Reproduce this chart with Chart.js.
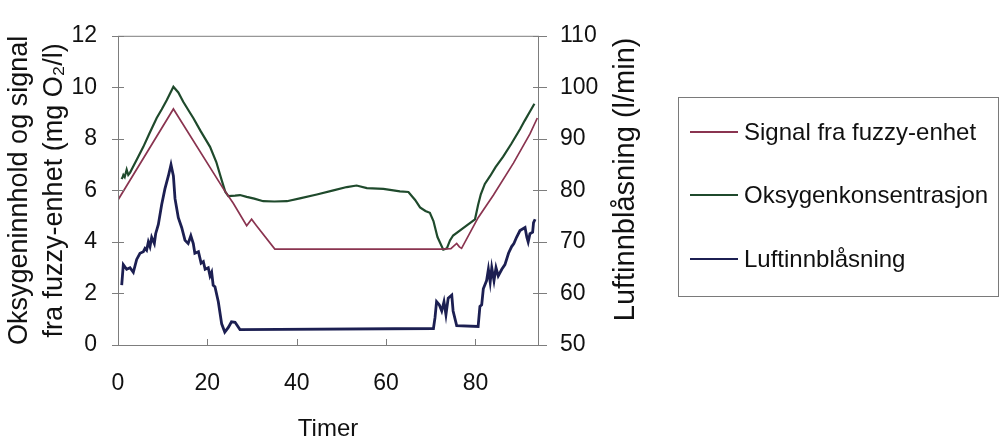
<!DOCTYPE html>
<html>
<head>
<meta charset="utf-8">
<script src="https://cdn.jsdelivr.net/npm/chart.js@4.4.1/dist/chart.umd.min.js"></script>
<style>
  html, body { margin: 0; padding: 0; background: #fff; }
  #wrap { position: relative; width: 1005px; height: 440px; }
  canvas { position: absolute; left: 0; top: 0; }
  #legend {
    position: absolute; left: 678px; top: 97px; width: 321px; height: 200px;
    border: 1px solid #7a7a7a; box-sizing: border-box;
    font-family: "Liberation Sans", Arial, sans-serif; font-size: 24px; color: #111;
  }
  .item { position: absolute; left: 11px; height: 26px; display: flex; align-items: center; white-space: nowrap; }
  .swatch { width: 48px; height: 0; border-top: 2px solid; margin-right: 6px; }
</style>
</head>
<body>
<div id="wrap">
  <canvas id="c" width="1005" height="440"></canvas>
  <div id="legend"></div>
</div>
<script>
// ---- data ----
const seriesNames = ['Signal fra fuzzy-enhet', 'Oksygenkonsentrasjon', 'Luftinnblåsning'];
const seriesColors = ['#8a3450', '#1f4a2c', '#1c1f52'];
const rightTitle = 'Luftinnblåsning (l/min)';

const xTickValues = [0, 20, 40, 60, 80];
const leftTickValues = [0, 2, 4, 6, 8, 10, 12];
const rightTickValues = [50, 60, 70, 80, 90, 100, 110];

const signalX = [0, 12.4, 23.6, 25.8, 28.8, 29.9, 31.0, 35.1, 72.4, 74.5, 75.8, 76.4, 76.9, 80.6, 84.0, 88.5, 92.2, 93.85];
const signalY = [5.63, 9.16, 6.06, 5.5, 4.63, 4.88, 4.63, 3.72, 3.72, 3.74, 3.94, 3.81, 3.75, 4.94, 5.81, 7.06, 8.19, 8.81];

const oksygenX = [0.8, 1.0, 1.2, 1.5, 1.94, 2.3, 2.7, 3.43, 4.5, 5.67, 7.0, 8.66, 9.8, 10.9, 12.4, 13.5, 14.6, 15.8, 16.85, 18.5,
  20.6, 22.0, 23.2, 24.0, 24.7, 26.2, 27.3, 28.8, 30.5, 32.5, 35.0, 37.8, 40.7, 44.5, 48.2, 51.2, 53.4, 55.7, 59.4, 63.1,
  65.0, 66.5, 67.6, 68.8, 69.8, 70.6, 71.5, 72.8, 73.6, 74.3, 75.0, 78.0, 79.9, 80.6, 81.2, 82.1, 83.3, 84.5, 86.2, 88.0,
  90.0, 91.0, 92.2, 93.2];
const oksygenY = [6.44, 6.5, 6.6, 6.52, 6.81, 6.6, 6.69, 6.94, 7.3, 7.69, 8.2, 8.81, 9.15, 9.5, 10.02, 9.8, 9.44, 9.1, 8.81, 8.3,
  7.69, 7.1, 6.4, 5.95, 5.78, 5.8, 5.82, 5.75, 5.68, 5.58, 5.57, 5.58, 5.69, 5.84, 6.0, 6.13, 6.19, 6.09, 6.06, 5.96,
  5.94, 5.63, 5.34, 5.2, 5.13, 4.81, 4.19, 3.7, 3.75, 4.06, 4.25, 4.63, 4.88, 5.44, 5.85, 6.25, 6.56, 6.9, 7.31, 7.8,
  8.38, 8.7, 9.06, 9.36];

const luftX = [0.83, 1.19, 1.94, 2.69, 3.43, 4.18, 4.92, 5.67, 6.04, 6.4, 6.79, 7.16, 7.54, 8.13, 8.43, 9.03, 9.77, 10.5, 11.27, 11.86,
  12.4, 12.76, 13.5, 14.25, 15.0, 15.7, 16.3, 16.85, 17.2, 18.0, 18.6, 19.1, 19.5, 20.2, 20.6, 20.96, 21.3, 21.7, 22.45, 23.2,
  23.9, 24.7, 25.4, 26.2, 27.3, 70.6, 70.95, 71.3, 71.9, 72.45, 72.96, 73.4, 73.9, 74.7, 75.0, 75.8, 80.6, 81.0, 81.4, 81.76,
  82.5, 82.9, 83.3, 83.65, 84.15, 84.6, 85.1, 85.9, 86.6, 87.4, 88.1, 88.6, 89.2, 89.97, 91.1, 91.5, 91.8, 92.2, 92.8, 93.0, 93.35];
const luftY = [61.6, 65.6, 64.7, 65.0, 64.1, 66.6, 67.8, 68.1, 68.75, 68.4, 70.0, 69.1, 70.9, 69.7, 71.6, 73.4, 77.2, 80.3, 82.8, 85.0,
  82.8, 78.4, 74.7, 72.8, 70.3, 69.7, 71.2, 69.7, 67.8, 68.1, 65.9, 66.2, 64.7, 65.0, 63.4, 64.1, 61.6, 61.3, 58.4, 54.1,
  52.5, 53.4, 54.5, 54.4, 53.0, 53.2, 55.3, 58.4, 57.8, 56.6, 58.4, 55.9, 59.1, 59.7, 56.6, 53.75, 53.6, 57.5, 57.8, 60.9,
  62.5, 64.7, 62.2, 65.0, 62.5, 65.0, 63.4, 64.7, 65.6, 67.8, 69.1, 69.7, 70.9, 72.2, 72.8, 70.9, 70.0, 71.6, 71.9, 73.75, 74.4];

const toPoints = (xs, ys) => xs.map((x, i) => ({ x: x, y: ys[i] }));

// ---- legend (HTML) ----
const legendEl = document.getElementById('legend');
const legendTops = [21, 84, 148];
seriesNames.forEach((n, i) => {
  const d = document.createElement('div');
  d.className = 'item';
  d.style.top = legendTops[i] + 'px';
  d.innerHTML = '<span class="swatch" style="border-color:' + seriesColors[i] + '"></span><span>' + n + '</span>';
  legendEl.appendChild(d);
});

const FONT = "'Liberation Sans', Arial, sans-serif";
const AXIS_COLOR = '#7d7d7d';

// frame, tick marks (from the scales) and the right-hand axis title (reads bottom to top)
const framePlugin = {
  id: 'frame',
  afterDraw(chart) {
    const { ctx, chartArea: a, scales } = chart;
    ctx.save();
    ctx.strokeStyle = AXIS_COLOR;
    ctx.lineWidth = 1;
    ctx.strokeRect(a.left + 0.5, a.top + 0.5, a.right - a.left, a.bottom - a.top);
    ctx.beginPath();
    scales.y.ticks.forEach(t => {
      const p = Math.round(scales.y.getPixelForValue(t.value)) + 0.5;
      ctx.moveTo(a.left - 6, p); ctx.lineTo(a.left + 6, p);
    });
    scales.y2.ticks.forEach(t => {
      const p = Math.round(scales.y2.getPixelForValue(t.value)) + 0.5;
      ctx.moveTo(a.right - 5, p); ctx.lineTo(a.right + 9, p);
    });
    scales.x.ticks.forEach(t => {
      const p = Math.round(scales.x.getPixelForValue(t.value)) + 0.5;
      ctx.moveTo(p, a.bottom); ctx.lineTo(p, a.bottom - 6);
    });
    ctx.stroke();

    ctx.translate(scales.y2.right - 14, (a.top + a.bottom) / 2 - 11);
    ctx.rotate(-Math.PI / 2);
    ctx.fillStyle = '#111';
    ctx.font = '29px ' + FONT;
    ctx.textAlign = 'center';
    ctx.textBaseline = 'middle';
    ctx.fillText(rightTitle, 0, 0);
    ctx.restore();
  }
};

new Chart(document.getElementById('c'), {
  type: 'line',
  data: {
    datasets: [
      { label: seriesNames[0], data: toPoints(signalX, signalY), borderColor: seriesColors[0], borderWidth: 1.7, yAxisID: 'y', order: 1 },
      { label: seriesNames[1], data: toPoints(oksygenX, oksygenY), borderColor: seriesColors[1], borderWidth: 2.2, yAxisID: 'y', order: 2 },
      { label: seriesNames[2], data: toPoints(luftX, luftY), borderColor: seriesColors[2], borderWidth: 2.8, yAxisID: 'y2', order: 3 }
    ]
  },
  options: {
    responsive: false,
    animation: false,
    devicePixelRatio: 1,
    elements: { point: { radius: 0 }, line: { tension: 0 } },
    layout: { padding: { left: 0, top: 25, right: 365, bottom: 0 } },
    plugins: { legend: { display: false }, tooltip: { enabled: false } },
    scales: {
      x: {
        type: 'linear', min: 0, max: 94,
        afterBuildTicks: s => { s.ticks = xTickValues.map(v => ({ value: v })); },
        afterFit: s => { s.height = 95; },
        grid: { display: false, drawTicks: false },
        border: { display: false },
        ticks: { color: '#111', font: { family: FONT, size: 23 }, padding: 25, maxRotation: 0 },
        title: { display: true, text: 'Timer', color: '#111', font: { family: FONT, size: 24, lineHeight: 0.8 }, padding: { top: 0, bottom: 1 } }
      },
      y: {
        type: 'linear', position: 'left', min: 0, max: 12,
        afterBuildTicks: s => { s.ticks = leftTickValues.map(v => ({ value: v })); },
        afterFit: s => { s.width = 118; },
        grid: { display: false, drawTicks: false },
        border: { display: false },
        ticks: { color: '#111', font: { family: FONT, size: 23 }, padding: 21 },
        title: { display: true, text: ['Oksygeninnhold og signal', 'fra fuzzy-enhet (mg O₂/l)'], color: '#111',
                 font: { family: FONT, size: 27, lineHeight: 1.3 }, padding: { top: 2, bottom: 0 } }
      },
      y2: {
        type: 'linear', position: 'right', min: 50, max: 110,
        afterBuildTicks: s => { s.ticks = rightTickValues.map(v => ({ value: v })); },
        afterFit: s => { s.width = 102; },
        grid: { display: false, drawTicks: false },
        border: { display: false },
        ticks: { color: '#111', font: { family: FONT, size: 23 }, padding: 22 },
        title: { display: false }
      }
    }
  },
  plugins: [framePlugin]
});
</script>
</body>
</html>
